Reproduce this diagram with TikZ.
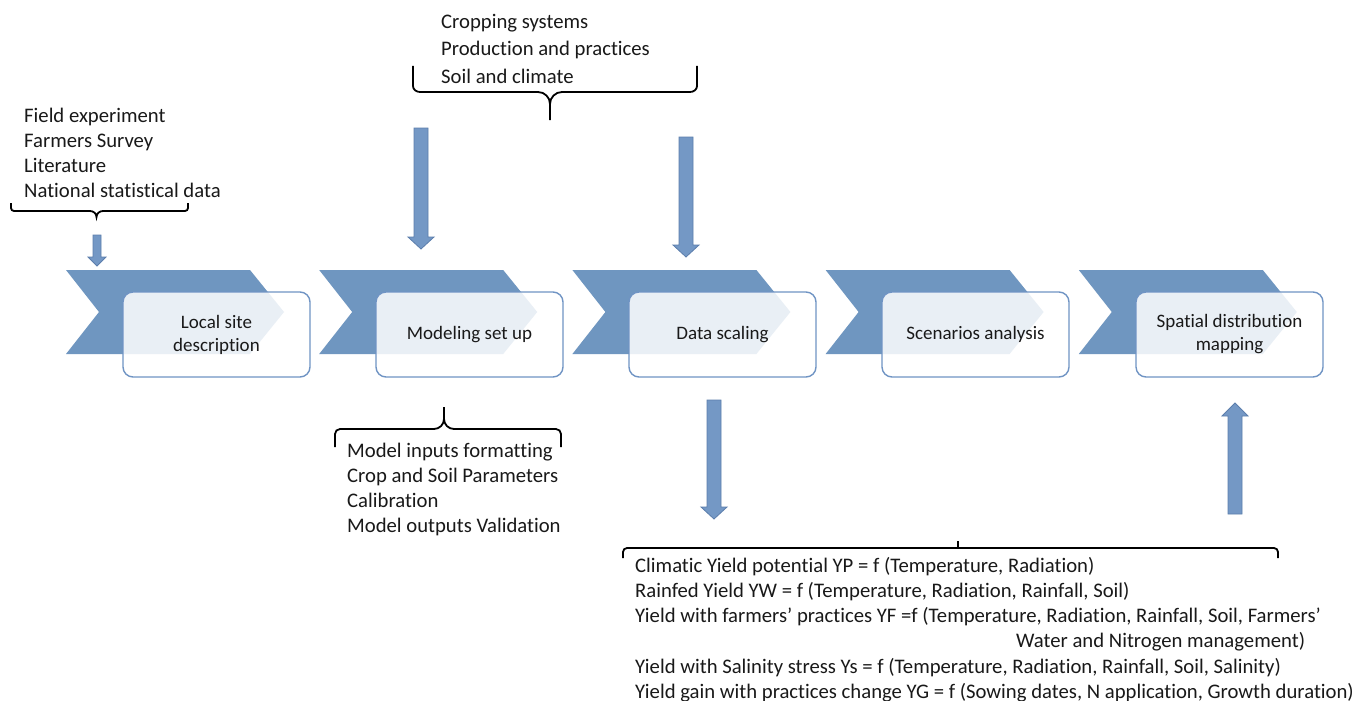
\documentclass[tikz,border=0pt]{standalone}
\usepackage{fontspec}
\setmainfont{Carlito}[Ligatures={NoCommon}]
\definecolor{chev}{RGB}{111,150,192}
\definecolor{boxline}{RGB}{112,148,196}
\definecolor{arrfill}{RGB}{116,152,197}
\definecolor{arrline}{RGB}{92,126,172}
\definecolor{txt}{RGB}{25,25,25}
\tikzset{
  chevron/.style={fill=chev,draw=none},
  stepbox/.style={draw=boxline,line width=1.4pt,rounded corners=10pt,fill=white,fill opacity=0.85,text opacity=1,
    minimum width=187pt,minimum height=85pt,align=center,inner sep=0pt,
    font=\fontsize{19}{23}\selectfont,text=txt},
  blockarrow/.style={fill=arrfill,draw=arrline,line width=0.8pt},
  brc/.style={draw=black,line width=1.8pt},
  lst/.style={anchor=base west,inner sep=0pt,font=\fontsize{20.7}{24}\selectfont,text=txt},
}
\begin{document}
\begin{tikzpicture}[x=1pt,y=-1pt]
\useasboundingbox[fill=white] (0,0) rectangle (1357,701);

% chevrons
\foreach \i in {0,...,4}{
  \pgfmathsetmacro{\dx}{253.2*\i}
  \fill[chev] (66+\dx,270) -- (250+\dx,270) -- (284+\dx,312) -- (250+\dx,354) -- (66+\dx,354) -- (99+\dx,312) -- cycle;
}

% boxes
\node[stepbox] (b1) at (216.5,334.5) {Local site\\description};
\node[stepbox] (b2) at (469.5,334.5) {Modeling set up};
\node[stepbox] (b3) at (722.5,334.5) {Data scaling};
\node[stepbox] (b4) at (975.5,334.5) {Scenarios analysis};
\node[stepbox] (b5) at (1229.5,334.5) {Spatial distribution\\mapping};

% left list
\node[lst] (l1) at (24,122) {Field experiment};
\node[lst] (l2) at (24,147) {Farmers Survey};
\node[lst] (l3) at (24,172) {Literature};
\node[lst] (l4) at (24,197) {National statistical data};

% top list
\node[lst] (t1) at (441,29) {Cropping systems};
\node[lst] (t2) at (441,56) {Production and practices};
\node[lst] (t3) at (441,83) {Soil and climate};

% middle list
\node[lst] (m1) at (347,457) {Model inputs formatting};
\node[lst] (m2) at (347,482) {Crop and Soil Parameters};
\node[lst] (m3) at (347,507) {Calibration};
\node[lst] (m4) at (347,532) {Model outputs Validation};

% bottom list
\node[lst] (y1) at (635,572) {Climatic Yield potential YP = f (Temperature, Radiation)};
\node[lst] (y2) at (635,597) {Rainfed Yield YW = f (Temperature, Radiation, Rainfall, Soil)};
\node[lst] (y3) at (635,622) {Yield with farmers’ practices YF =f (Temperature, Radiation, Rainfall, Soil, Farmers’};
\node[lst] (y3b) at (1016,647) {Water and Nitrogen management)};
\node[lst] (y4) at (635,673) {Yield with Salinity stress Ys = f (Temperature, Radiation, Rainfall, Soil, Salinity)};
\node[lst] (y5) at (635,698) {Yield gain with practices change YG = f (Sowing dates, N application, Growth duration)};

% braces
\draw[brc] (11,203) -- (11,208) to[out=-90,in=180] (14,211) -- (90,211) to[out=0,in=90] (96.5,217) to[out=90,in=180] (103,211) -- (185,211) to[out=0,in=-90] (188,208) -- (188,203);
\draw[brc] (413,66) -- (413,86) to[out=-90,in=180] (420,92) -- (538,92) to[out=0,in=90] (550,104) -- (550,120);
\draw[brc] (550,104) to[out=90,in=180] (562,92) -- (690,92) to[out=0,in=-90] (697,86) -- (697,66);
\draw[brc] (335,447) -- (335,434) to[out=90,in=180] (340,429) -- (434,429) to[out=0,in=-90] (444,419) -- (444,407);
\draw[brc] (444,419) to[out=-90,in=180] (454,429) -- (556,429) to[out=0,in=90] (561,434) -- (561,447);
\draw[brc] (623,558) -- (623,552) to[out=90,in=180] (627,548) -- (1274,548) to[out=0,in=90] (1278,552) -- (1278,558);
\draw[brc] (958,548) -- (958,541);

% block arrows
\draw[blockarrow] (93,235) -- (101,235) -- (101,257) -- (106,257) -- (97,266) -- (88,257) -- (93,257) -- cycle;
\draw[blockarrow] (414,128) -- (428,128) -- (428,237) -- (434,237) -- (421,249) -- (408,237) -- (414,237) -- cycle;
\draw[blockarrow] (679,137) -- (693,137) -- (693,245) -- (699,245) -- (686,257) -- (673,245) -- (679,245) -- cycle;
\draw[blockarrow] (707,400) -- (721,400) -- (721,507) -- (727,507) -- (714,519) -- (701,507) -- (707,507) -- cycle;
\draw[blockarrow] (1228,514) -- (1242,514) -- (1242,416) -- (1248,416) -- (1235,403) -- (1222,416) -- (1228,416) -- cycle;
\end{tikzpicture}
\end{document}
